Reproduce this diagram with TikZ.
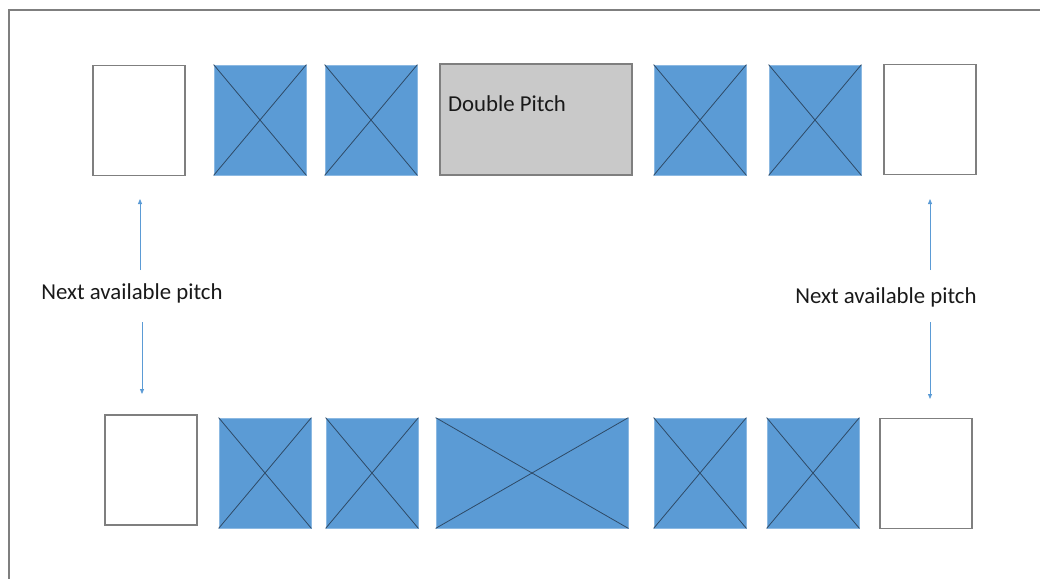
\documentclass[tikz,border=0pt]{standalone}
\usepackage{fontspec}
\setmainfont{Carlito}
\usetikzlibrary{arrows.meta,positioning}
\definecolor{pitchblue}{HTML}{5B9BD5}
\definecolor{pitchgray}{HTML}{C9C9C9}
\definecolor{edgegray}{HTML}{7F7F7F}
\definecolor{crossdark}{HTML}{2E4A66}
\begin{document}
\begin{tikzpicture}[x=1pt,y=-1pt]
\tikzset{
  freepitch/.style={draw=edgegray,line width=1.3pt,fill=white,minimum width=92pt,minimum height=110pt,inner sep=0pt},
  takenpitch/.style={draw=pitchblue!70!white,line width=0.8pt,fill=pitchblue,minimum width=92pt,minimum height=110pt,inner sep=0pt},
  doublepitch/.style={draw=edgegray,line width=1.3pt,fill=pitchgray,minimum width=192pt,minimum height=111pt,inner sep=0pt},
  crossline/.style={draw=crossdark,line width=0.8pt},
  pitcharrow/.style={-{Triangle[length=5pt,width=4pt]},draw=pitchblue,line width=0.8pt},
  pitchtext/.style={font=\fontsize{22.8}{26}\selectfont,text=black!90,inner sep=0pt}
}
\useasboundingbox (0,0) rectangle (1040,578);
\draw[edgegray,line width=1.3pt] (9,10) rectangle (1060,600);
% top row
\node[freepitch] (t_f1) at (139,120.5) {};
\node[takenpitch] (t_p1) at (260,120) {};
\node[takenpitch] (t_p2) at (371,120) {};
\node[doublepitch] (t_dbl) at (536,119.5) {};
\node[takenpitch] (t_p3) at (700,120) {};
\node[takenpitch] (t_p4) at (815,120) {};
\node[freepitch] (t_f2) at (930,119.5) {};
\node[pitchtext,anchor=west] (t_dbltext) at (448,104) {Double Pitch};
% bottom row
\node[freepitch] (b_f1) at (151,470) {};
\node[takenpitch] (b_p1) at (265,473) {};
\node[takenpitch] (b_p2) at (372,473) {};
\node[takenpitch,minimum width=192pt] (b_dbl) at (532,473) {};
\node[takenpitch] (b_p3) at (700,473) {};
\node[takenpitch] (b_p4) at (813,473) {};
\node[freepitch] (b_f2) at (926,473.5) {};
\foreach \p in {t_p1,t_p2,t_p3,t_p4,b_p1,b_p2,b_dbl,b_p3,b_p4}{
  \draw[crossline] (\p.north west) -- (\p.south east);
  \draw[crossline] (\p.south west) -- (\p.north east);
}
% next available pitch
\node[pitchtext] (lbl_left) at (132,293) {Next available pitch};
\node[pitchtext] (lbl_right) at (886,297) {Next available pitch};
\coordinate (lup_s) at (140,270);
\coordinate (lup_e) at (140,199);
\coordinate (ldn_s) at (142,322);
\coordinate (ldn_e) at (142,394);
\coordinate (rup_s) at (930,270);
\coordinate (rup_e) at (930,199);
\coordinate (rdn_s) at (930,322);
\coordinate (rdn_e) at (930,399);
\draw[pitcharrow] (lup_s) -- (lup_e);
\draw[pitcharrow] (ldn_s) -- (ldn_e);
\draw[pitcharrow] (rup_s) -- (rup_e);
\draw[pitcharrow] (rdn_s) -- (rdn_e);
\end{tikzpicture}
\end{document}
